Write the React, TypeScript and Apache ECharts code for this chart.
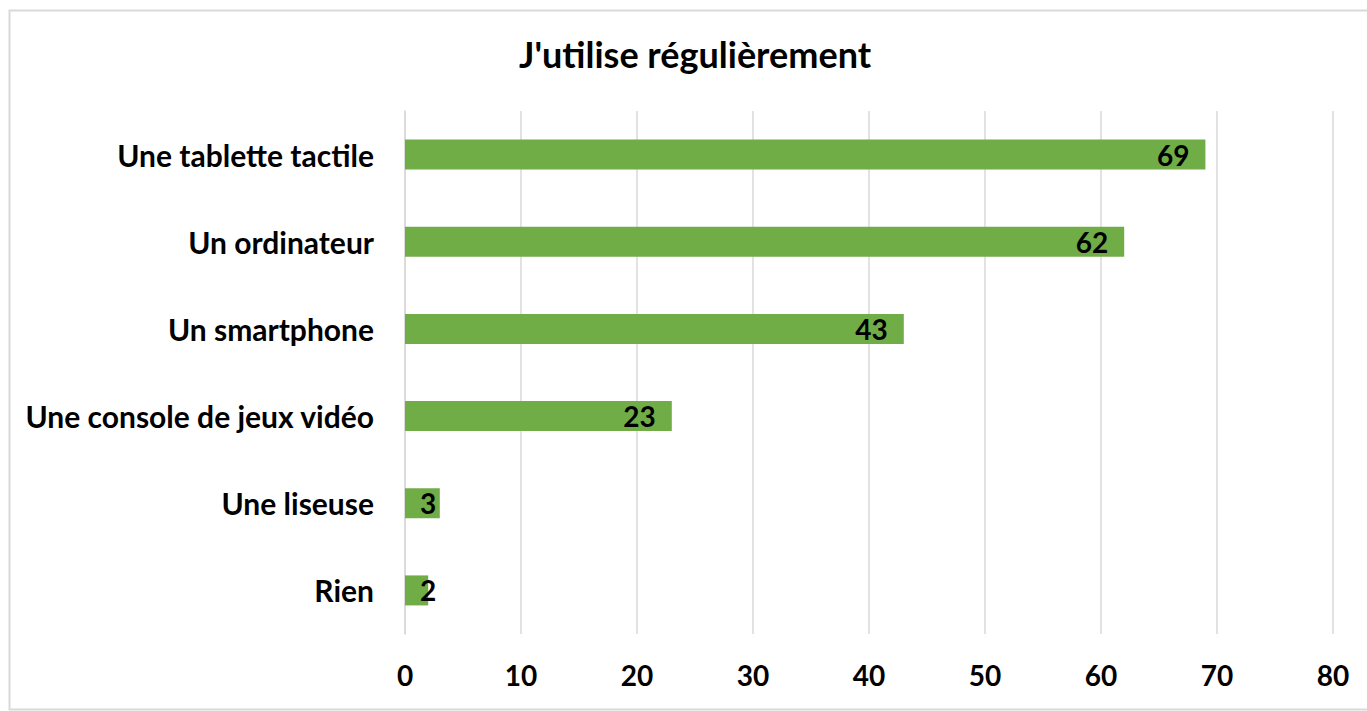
import React, { useEffect, useRef } from "react";
import * as echarts from "echarts";

const categories = [
  "Une tablette tactile",
  "Un ordinateur",
  "Un smartphone",
  "Une console de jeux vidéo",
  "Une liseuse",
  "Rien",
];
const values = [69, 62, 43, 23, 3, 2];
const axisMin = 0;
const axisMax = 80;
const axisStep = 10;
const titleText = "J'utilise régulièrement";

const FONT = "Lato, 'Noto Sans', sans-serif";

export default function App() {
  const ref = useRef<HTMLDivElement>(null);
  useEffect(() => {
    if (!ref.current) return;
    const chart = echarts.init(ref.current, null, { renderer: "svg" });
    chart.setOption({
      animation: false,
      backgroundColor: "#ffffff",
      title: {
        text: titleText,
        left: 690,
        top: 31,
        textAlign: "center",
        textStyle: { fontFamily: FONT, fontWeight: "bold", fontSize: 36, color: "#000" },
      },
      graphic: [
        {
          type: "rect",
          shape: { x: 9.5, y: 10.5, width: 1400, height: 699 },
          style: { fill: "none", stroke: "#D9D9D9", lineWidth: 2 },
          silent: true,
        },
      ],
      grid: { left: 405, right: 34, top: 111, bottom: 77, containLabel: false },
      xAxis: {
        type: "value",
        min: axisMin,
        max: axisMax,
        interval: axisStep,
        axisLine: { show: false },
        axisTick: { show: false },
        splitLine: { show: true, lineStyle: { color: "#D9D9D9", width: 1.5 } },
        axisLabel: {
          margin: 27,
          fontFamily: FONT,
          fontWeight: "bold",
          fontSize: 28,
          color: "#000",
        },
      },
      yAxis: {
        type: "category",
        data: categories,
        inverse: true,
        axisLine: { show: true, lineStyle: { color: "#D9D9D9", width: 1.5 } },
        axisTick: { show: false },
        axisLabel: {
          margin: 31,
          fontFamily: FONT,
          fontWeight: "bold",
          fontSize: 30,
          color: "#000",
        },
      },
      series: [
        {
          type: "bar",
          barWidth: 30,
          itemStyle: { color: "#70AD47" },
          data: values.map((v) => ({
            value: v,
            label:
              v < 5
                ? { position: "insideLeft", distance: 15 }
                : { position: "insideRight", distance: 16 },
          })),
          label: {
            show: true,
            fontFamily: FONT,
            fontWeight: "bold",
            fontSize: 28,
            color: "#000",
          },
        },
      ],
    });
    return () => chart.dispose();
  }, []);
  return (
    <div
      ref={ref}
      style={{ position: "absolute", left: 0, top: 0, width: 1367, height: 711 }}
    />
  );
}
